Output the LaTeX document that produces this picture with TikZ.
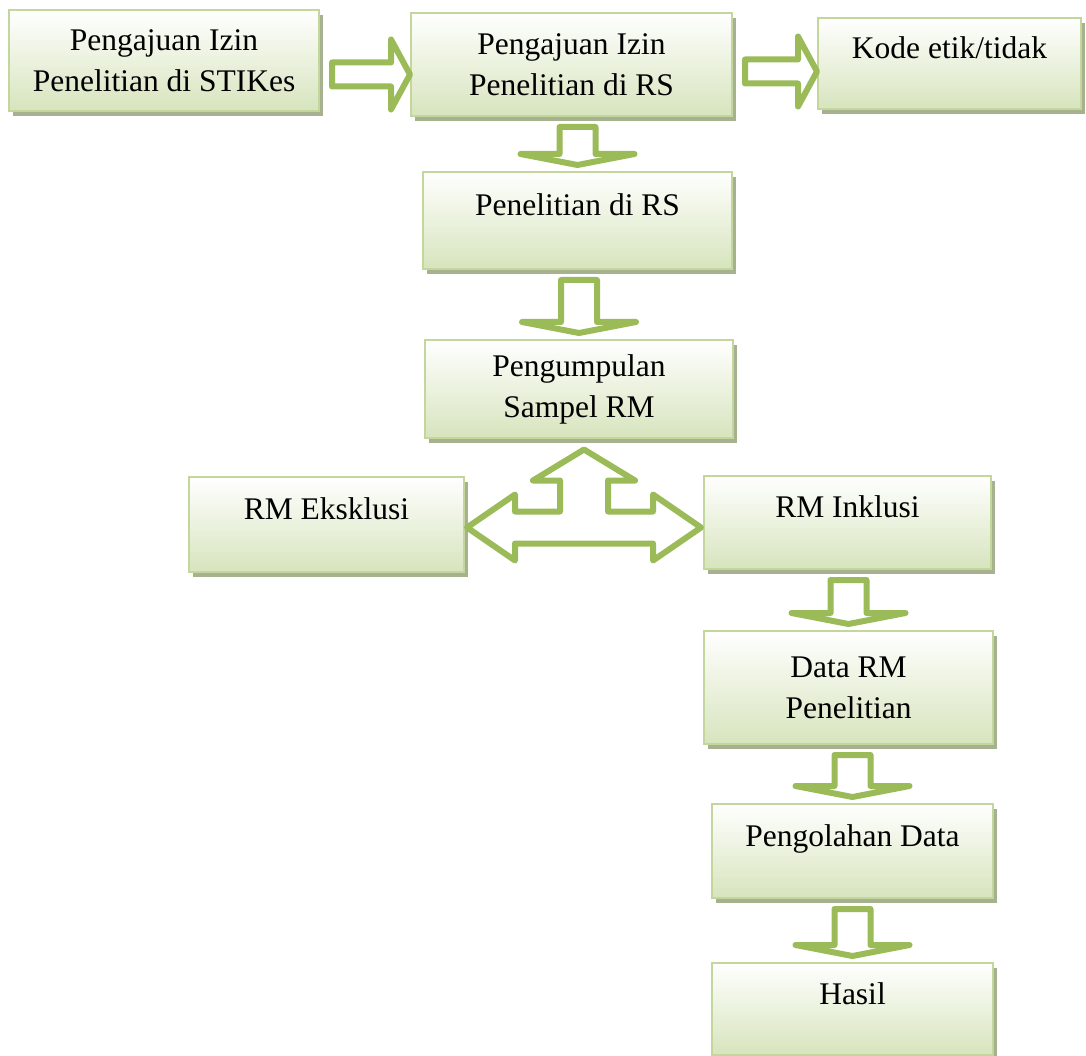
\documentclass[tikz,border=0pt]{standalone}
\usepackage{fontspec}
\setmainfont{Liberation Serif}
\usepackage{tikz}
\usetikzlibrary{calc,shadows}

\definecolor{arrgreen}{RGB}{155,187,89}
\definecolor{boxline}{RGB}{195,214,155}
\definecolor{boxfill}{RGB}{215,228,189}
\definecolor{boxshadow}{RGB}{166,177,143}

\newcommand{\blockdown}[2]{%
  \coordinate (t) at ($(#2.north)+(0,-6)$);
  \coordinate (s) at ($(t |- #1.south)+(0,10)$);
  \draw[blockarr] ($(s)+(-18,0)$) -- ($(t)+(-18,-11)$) -- ($(t)+(-57,-11)$) -- (t)
    -- ($(t)+(57,-11)$) -- ($(t)+(18,-11)$) -- ($(s)+(18,0)$) -- cycle;
}
\newcommand{\blockright}[3]{%
  \coordinate (s) at ($(#1.east)+(12,#3)$);
  \coordinate (t) at ($(#2.west |- s)$);
  \draw[blockarr] ($(s)+(0,-12)$) -- ($(t)+(-19,-12)$) -- ($(t)+(-19,-35)$) -- (t)
    -- ($(t)+(-19,35)$) -- ($(t)+(-19,12)$) -- ($(s)+(0,12)$) -- cycle;
}

\begin{document}
\begin{tikzpicture}[x=1pt,y=-1pt,
    box/.style={draw=boxline, line width=2pt, top color=white, bottom color=boxfill,
      drop shadow={shadow xshift=4pt, shadow yshift=-5pt, fill=boxshadow, opacity=1},
      align=center, anchor=north west, inner sep=0pt,
      font=\fontsize{31.5}{41}\selectfont},
    oneline/.style={text height=22pt, text depth=32pt},
    blockarr/.style={draw=arrgreen, line width=6pt, line join=round, fill=white}]
  \useasboundingbox (0,0) rectangle (1086,1056);

  \node[box, minimum width=310pt, minimum height=101pt] (izin_stikes) at (8,9) {Pengajuan Izin\\Penelitian di STIKes};
  \node[box, minimum width=321pt, minimum height=103pt] (izin_rs) at (410,12) {Pengajuan Izin\\Penelitian di RS};
  \node[box, oneline, minimum width=263pt, minimum height=91pt] (kode) at (817,17) {Kode etik/tidak};
  \node[box, oneline, minimum width=309pt, minimum height=97pt] (teliti) at (422,171) {Penelitian di RS};
  \node[box, minimum width=308pt, minimum height=98pt] (kumpul) at (424,339) {Pengumpulan\\Sampel RM};
  \node[box, oneline, minimum width=275pt, minimum height=95pt] (eksklusi) at (188,476) {RM Eksklusi};
  \node[box, oneline, minimum width=287pt, minimum height=93pt] (inklusi) at (703,475) {RM Inklusi};
  \node[box, minimum width=289pt, minimum height=113pt] (data) at (703,630) {Data RM\\Penelitian};
  \node[box, oneline, minimum width=281pt, minimum height=94pt] (olah) at (711,803) {Pengolahan Data};
  \node[box, oneline, minimum width=281pt, minimum height=92pt] (hasil) at (711,962) {Hasil};

  \blockright{izin_stikes}{izin_rs}{14}
  \blockright{izin_rs}{kode}{7}
  \blockdown{izin_rs}{teliti}
  \blockdown{teliti}{kumpul}
  \blockdown{inklusi}{data}
  \blockdown{data}{olah}
  \blockdown{olah}{hasil}

  \coordinate (c) at ($($(eksklusi.east)!0.5!(inklusi.west)$)+(0,4)$);
  \begin{scope}[shift={(c)}]
    \draw[blockarr] (-117,0) -- (-69,-33) -- (-69,-16) -- (-24,-16) -- (-24,-47) -- (-51,-47)
      -- (0,-78) -- (51,-47) -- (24,-47) -- (24,-16) -- (69,-16) -- (69,-33) -- (117,0)
      -- (69,33) -- (69,16) -- (-69,16) -- (-69,33) -- cycle;
  \end{scope}
\end{tikzpicture}
\end{document}
